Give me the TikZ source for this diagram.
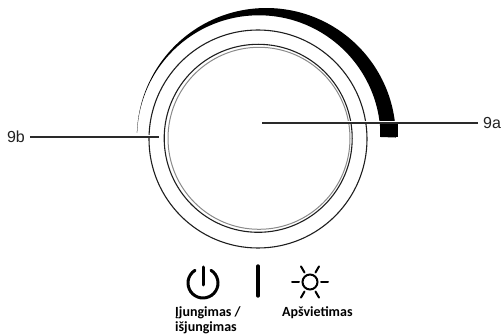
\documentclass[tikz,border=0pt]{standalone}
\usepackage{fontspec}
\setmainfont{Liberation Sans}
\newfontfamily\iconfont{Carlito}
\definecolor{KnobLine}{HTML}{1E1E1E}
\definecolor{KnobGrey}{HTML}{8A8A8A}
\definecolor{KnobLeader}{HTML}{2A2A2A}
\definecolor{KnobText}{HTML}{222222}
\tikzset{
  leader/.style={KnobLeader,line width=1.5pt,preaction={draw=white,line width=3pt}},
  calloutlabel/.style={text=KnobText,font=\fontsize{16}{18}\selectfont,inner sep=5pt,outer sep=0pt},
  iconlabel/.style={text=black,font=\iconfont\bfseries\fontsize{14}{15.2}\selectfont,inner sep=0pt,align=left},
  iconline/.style={black,line width=3pt,line cap=round}
}
\begin{document}
\begin{tikzpicture}[x=1pt,y=1pt]
  \useasboundingbox (0,0) rectangle (501,335);
  % knob rings
  \draw[KnobLine,line width=1.1pt] (258,196) circle (109);
  \draw[KnobLine,line width=1.1pt] (258.2,196.7) circle (94);
  \draw[KnobGrey,line width=1pt] (259,196.7) circle (91);
  % tapered band
  \fill[black] (136.9,202) arc[start angle=178,end angle=0,radius=129.5]
    -- (380.5,198) arc[start angle=0,end angle=178,radius=121.7] -- cycle;
  \fill[black] (380,198) rectangle (397.7,211);
  % leaders
  \coordinate (end9a) at (262,212);
  \coordinate (end9b) at (159,198);
  \node[calloutlabel] (lbl9a) at (492,212) {9a};
  \node[calloutlabel] (lbl9b) at (16,198) {9b};
  \draw[leader] (lbl9a) -- (end9a);
  \draw[leader] (lbl9b) -- (end9b);
  % power icon
  \coordinate (powerc) at (203,52);
  \draw[iconline] (powerc) ++(58:15) arc[start angle=58,end angle=-238,radius=15];
  \coordinate (powertop) at (203,68);
  \coordinate (powerbot) at (203,50);
  \draw[iconline] (powertop) -- (powerbot);
  % separator
  \coordinate (septop) at (258,69);
  \coordinate (sepbot) at (258,39);
  \draw[black,line width=3.4pt,line cap=round] (septop) -- (sepbot);
  % sun icon
  \node[draw=black,circle,line width=2pt,minimum size=15pt,inner sep=0pt] (sun) at (310,53) {};
  \foreach \a in {0,60,120,180,240,300} {
    \draw[black,line width=2pt,line cap=round] (sun.\a) ++(\a:2.5) -- ++(\a:7);
  }
  % labels
  \node[iconlabel,anchor=north west] (lblpower) at (175,28.6) {Įjungimas /\\išjungimas};
  \node[iconlabel,anchor=north west] (lbllight) at (282,28.6) {Apšvietimas};
\end{tikzpicture}
\end{document}
